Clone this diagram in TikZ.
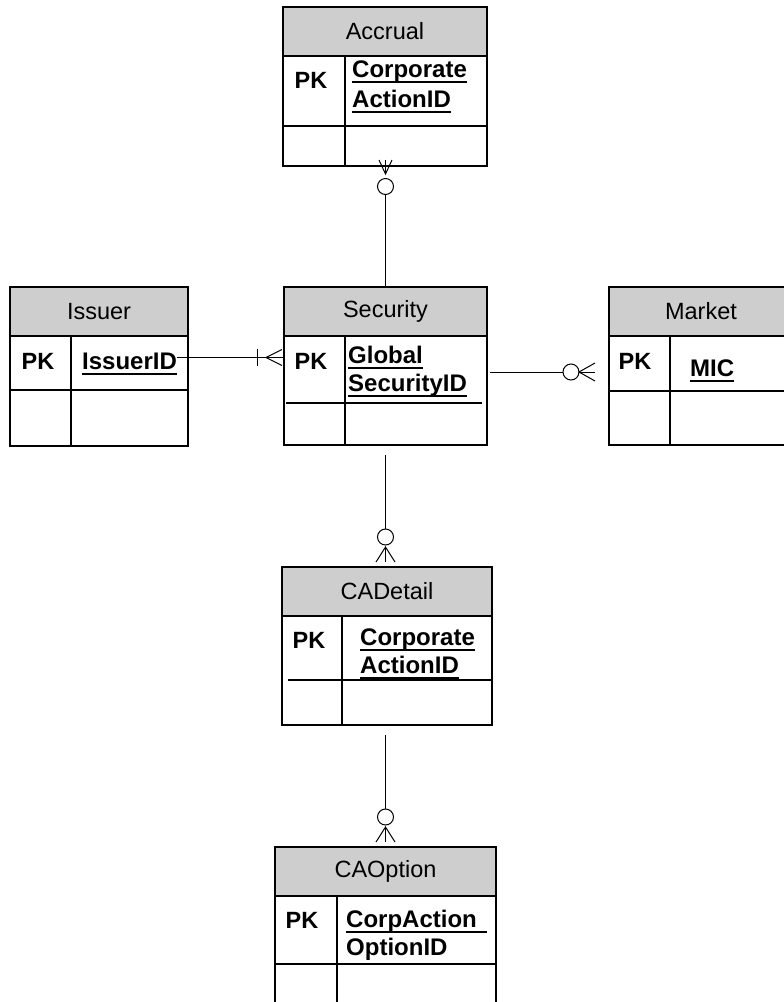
\documentclass[tikz,border=0pt]{standalone}
\usepackage{fontspec}
\setmainfont{Liberation Sans}
\usetikzlibrary{calc}
\definecolor{hdrgray}{RGB}{206,206,206}
\begin{document}
\begin{tikzpicture}[x=1pt,y=-1pt,
  box/.style={draw=black,line width=1.3pt,inner sep=0pt,outer sep=0pt,anchor=north west},
  hdr/.style={box,fill=hdrgray,font=\fontsize{23.5}{28}\selectfont},
  sep/.style={draw=black,line width=1.3pt},
  pk/.style={inner sep=0pt,anchor=base,font=\fontsize{23.5}{28}\selectfont\bfseries},
  fld/.style={inner sep=0pt,anchor=base west,font=\fontsize{24}{28}\selectfont\bfseries},
  ul/.style={line width=2pt},
  conn/.style={line width=1pt},
  footmark/.style={line width=1pt},
]
\useasboundingbox (0,0) rectangle (784,1002);
\clip (0,0) rectangle (784,1002);

% ---------- Accrual ----------
\node[hdr,minimum width=204pt,minimum height=49pt] (accH) at (283,7) {Accrual};
\node[box,minimum width=204pt,minimum height=110pt] (accB) at (283,56) {};
\draw[sep] (283,126) -- (487,126);
\draw[sep] (345,56) -- (345,166);
\node[pk] (accPK) at (311,88) {PK};
\node[fld] (accF1) at (352,77) {Corporate};
\node[fld] (accF2) at (352,107) {ActionID};
\draw[ul] ([yshift=-4.5pt]accF1.base west) -- ([yshift=-4.5pt]accF1.base east);
\draw[ul] ([yshift=-4.5pt]accF2.base west) -- ([yshift=-4.5pt]accF2.base east);

% ---------- Issuer ----------
\node[hdr,minimum width=178pt,minimum height=49pt] (issH) at (10,287) {Issuer};
\node[box,minimum width=178pt,minimum height=110pt] (issB) at (10,336) {};
\draw[sep] (10,390) -- (188,390);
\draw[sep] (71,336) -- (71,446);
\node[pk] (issPK) at (38,369) {PK};
\node[fld] (issF1) at (82,369) {IssuerID};
\draw[ul] ([yshift=-4.5pt]issF1.base west) -- ([yshift=-4.5pt]issF1.base east);

% ---------- Security ----------
\node[hdr,minimum width=203pt,minimum height=49pt] (secH) at (284,287) {Security};
\node[box,minimum width=203pt,minimum height=109pt] (secB) at (284,336) {};
\draw[sep] (286,403) -- (482,403);
\draw[sep] (345,336) -- (345,445);
\node[pk] (secPK) at (311,369) {PK};
\node[fld] (secF1) at (348,363) {Global};
\node[fld] (secF2) at (348,391) {SecurityID};
\draw[ul] ([yshift=-4.5pt]secF1.base west) -- ([yshift=-4.5pt]secF1.base east);
\draw[ul] ([yshift=-4.5pt]secF2.base west) -- ([yshift=-4.5pt]secF2.base east);

% ---------- Market ----------
\node[hdr,minimum width=184pt,minimum height=49pt] (mktH) at (609,287) {Market};
\node[box,minimum width=184pt,minimum height=109pt] (mktB) at (609,336) {};
\draw[sep] (609,391) -- (793,391);
\draw[sep] (670,336) -- (670,445);
\node[pk] (mktPK) at (635,369) {PK};
\node[fld] (mktF1) at (690,376) {MIC};
\draw[ul] ([yshift=-4.5pt]mktF1.base west) -- ([yshift=-4.5pt]mktF1.base east);

% ---------- CADetail ----------
\node[hdr,minimum width=210pt,minimum height=49pt] (cadH) at (282,567) {CADetail};
\node[box,minimum width=210pt,minimum height=109pt] (cadB) at (282,616) {};
\draw[sep] (288,680) -- (492,680);
\draw[sep] (342,616) -- (342,725);
\node[pk] (cadPK) at (309,648) {PK};
\node[fld] (cadF1) at (360,645) {Corporate};
\node[fld] (cadF2) at (360,673) {ActionID};
\draw[ul] ([yshift=-4.5pt]cadF1.base west) -- ([yshift=-4.5pt]cadF1.base east);
\draw[ul] ([yshift=-4.5pt]cadF2.base west) -- ([yshift=-4.5pt]cadF2.base east);

% ---------- CAOption ----------
\node[hdr,minimum width=221pt,minimum height=49pt] (caoH) at (275,847) {CAOption};
\node[box,minimum width=221pt,minimum height=150pt] (caoB) at (275,896) {};
\draw[sep] (275,964) -- (496,964);
\draw[sep] (337,896) -- (337,1046);
\node[pk] (caoPK) at (302,928) {PK};
\node[fld] (caoF1) at (346,927) {CorpAction};
\node[fld] (caoF2) at (346,955) {OptionID};
\draw[ul] ([yshift=-4.5pt]caoF1.base west) -- ([yshift=-4.5pt,xshift=10pt]caoF1.base east);

% ---------- Connectors ----------
% Accrual -- Security
\coordinate (a1) at (385.5,174);
\draw[conn] (385.5,194.5) -- (secH.north -| a1);
\draw[footmark] (385.5,186.5) circle (8pt);
\draw[footmark] (379,160) -- (a1) -- (392,160);
\draw[footmark] (385.5,160) -- (a1);

% Issuer -- Security
\coordinate (i1) at (266,357.5);
\draw[conn] (issF1.east |- i1) -- (secB.west |- i1);
\draw[footmark] (257,349) -- (257,366);
\draw[footmark] (282,349.5) -- (i1) -- (282,365.5);

% Security -- Market
\coordinate (m0) at (490,372);
\coordinate (m1) at (563,372);
\coordinate (m2) at (579,372);
\coordinate (m3) at (595,372);
\draw[conn] (m0) -- (m1);
\draw[footmark] (571,372) circle (8pt);
\draw[footmark] (595,363) -- (m2) -- (595,381);
\draw[footmark] (m2) -- (m3);

% Security -- CADetail
\coordinate (d0) at (385.5,455);
\coordinate (d1) at (385.5,547);
\coordinate (d2) at (385.5,562);
\draw[conn] (d0) -- (385.5,529);
\draw[footmark] (385.5,537) circle (8pt);
\draw[footmark] (376,562) -- (d1) -- (395,562);
\draw[footmark] (d1) -- (d2);

% CADetail -- CAOption
\coordinate (o0) at (385.5,735);
\coordinate (o1) at (385.5,827);
\coordinate (o2) at (385.5,842);
\draw[conn] (o0) -- (385.5,809);
\draw[footmark] (385.5,817) circle (8pt);
\draw[footmark] (376,842) -- (o1) -- (395,842);
\draw[footmark] (o1) -- (o2);
\end{tikzpicture}
\end{document}
